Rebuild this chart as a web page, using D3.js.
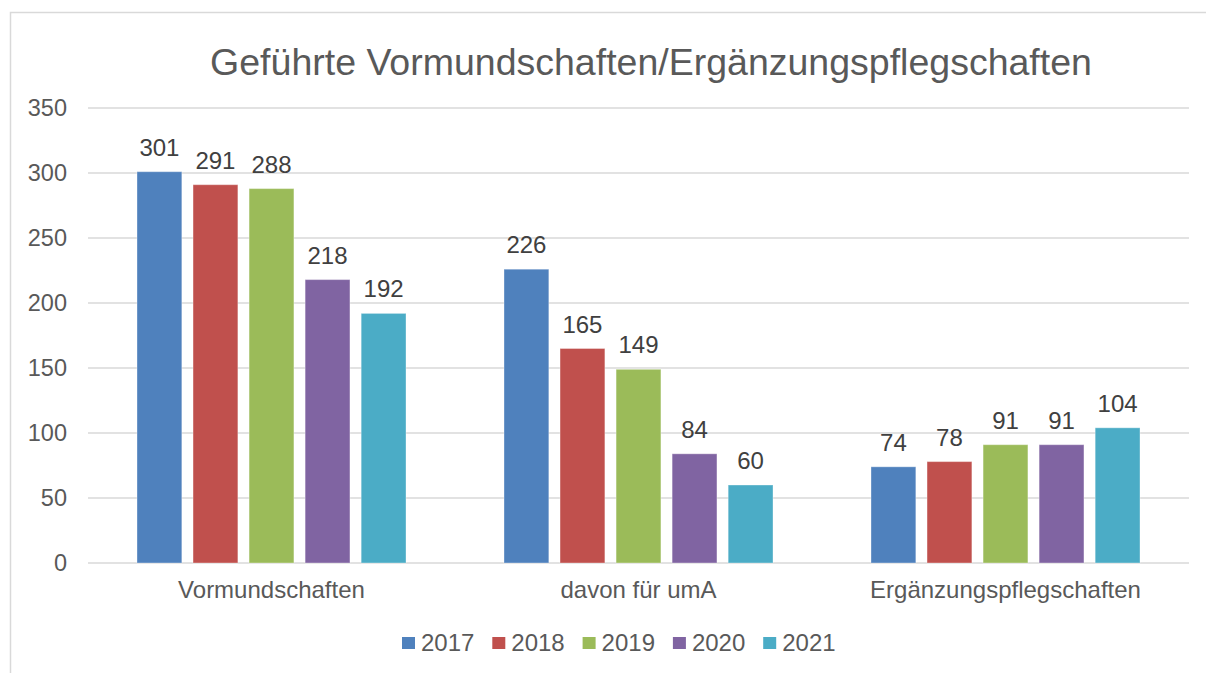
<!DOCTYPE html>
<html>
<head>
<meta charset="utf-8">
<script src="https://cdn.jsdelivr.net/npm/d3@7"></script>
<style>
  body { margin: 0; background: #fff; }
  svg { display: block; font-family: "Liberation Sans", Arial, sans-serif; }
</style>
</head>
<body>
<svg id="chart" width="1206" height="673"></svg>
<script>
// data
const categories = ['Vormundschaften', 'davon für umA', 'Ergänzungspflegschaften'];
const years = ['2017', '2018', '2019', '2020', '2021'];
const colors = ['#4F81BD', '#C0504D', '#9BBB59', '#8064A2', '#4BACC6'];
const values = {
  '2017': [301, 226, 74],
  '2018': [291, 165, 78],
  '2019': [288, 149, 91],
  '2020': [218, 84, 91],
  '2021': [192, 60, 104]
};
const yTicks = [0, 50, 100, 150, 200, 250, 300, 350];

const svg = d3.select('#chart');
const textColor = '#595959';

// chart frame
svg.append('rect')
  .attr('x', 10.5).attr('y', 12.5)
  .attr('width', 1206).attr('height', 700)
  .attr('fill', '#fff')
  .attr('stroke', '#d9d9d9')
  .attr('stroke-width', 1.5);

const plot = { left: 88, right: 1189, top: 108, bottom: 563 };

const x0 = d3.scaleBand()
  .domain(categories)
  .range([plot.left, plot.right]);

const groupPad = 49;
const x1 = d3.scaleBand()
  .domain(years)
  .range([groupPad, x0.bandwidth() - groupPad])
  .paddingInner(0.2);

const y = d3.scaleLinear()
  .domain([0, 350])
  .range([plot.bottom, plot.top]);

const color = d3.scaleOrdinal().domain(years).range(colors);

// gridlines
svg.append('g')
  .selectAll('line')
  .data(yTicks)
  .join('line')
  .attr('x1', plot.left).attr('x2', plot.right)
  .attr('y1', d => y(d)).attr('y2', d => y(d))
  .attr('stroke', '#d9d9d9')
  .attr('stroke-width', 1.5);

// y axis labels
svg.append('g')
  .selectAll('text')
  .data(yTicks)
  .join('text')
  .attr('x', 67)
  .attr('y', d => y(d))
  .attr('dy', '0.35em')
  .attr('text-anchor', 'end')
  .attr('font-size', 23.5)
  .attr('fill', textColor)
  .text(d => d);

// bars
const rows = [];
categories.forEach((c, i) => {
  years.forEach(yr => rows.push({ cat: c, year: yr, value: values[yr][i] }));
});

const bars = svg.append('g');
bars.selectAll('rect')
  .data(rows)
  .join('rect')
  .attr('x', d => x0(d.cat) + x1(d.year))
  .attr('y', d => y(d.value))
  .attr('width', x1.bandwidth())
  .attr('height', d => y(0) - y(d.value))
  .attr('fill', d => color(d.year))
  .attr('stroke', '#ffffff')
  .attr('stroke-opacity', 0.35)
  .attr('stroke-width', 1);

// data labels
bars.selectAll('text')
  .data(rows)
  .join('text')
  .attr('x', d => x0(d.cat) + x1(d.year) + x1.bandwidth() / 2)
  .attr('y', d => y(d.value) - 16)
  .attr('text-anchor', 'middle')
  .attr('font-size', 24)
  .attr('fill', '#404040')
  .text(d => d.value);

// category labels
svg.append('g')
  .selectAll('text')
  .data(categories)
  .join('text')
  .attr('x', d => x0(d) + x0.bandwidth() / 2)
  .attr('y', 598)
  .attr('text-anchor', 'middle')
  .attr('font-size', 24)
  .attr('fill', textColor)
  .text(d => d);

// title
svg.append('text')
  .attr('x', 651)
  .attr('y', 75)
  .attr('text-anchor', 'middle')
  .attr('font-size', 37.5)
  .attr('fill', textColor)
  .text('Geführte Vormundschaften/Ergänzungspflegschaften');

// legend
const legend = svg.append('g')
  .selectAll('g')
  .data(years)
  .join('g')
  .attr('transform', (d, i) => `translate(${402 + i * 90.3},0)`);

legend.append('rect')
  .attr('x', 0).attr('y', 637)
  .attr('width', 13).attr('height', 12)
  .attr('fill', d => color(d));

legend.append('text')
  .attr('x', 19)
  .attr('y', 651)
  .attr('font-size', 24)
  .attr('fill', textColor)
  .text(d => d);
</script>
</body>
</html>
